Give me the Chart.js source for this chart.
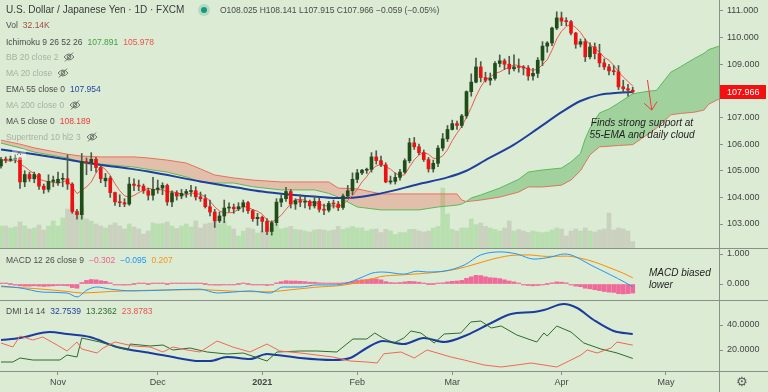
<!DOCTYPE html>
<html>
<head>
<meta charset="utf-8">
<title>USDJPY 1D</title>
<script src="https://cdn.jsdelivr.net/npm/chart.js@4.4.1/dist/chart.umd.min.js"></script>
<style>
  html, body { margin: 0; padding: 0; background: #dcebd4; }
  #wrap { position: relative; width: 768px; height: 392px; overflow: hidden; background: #dcebd4; font-family: "Liberation Sans", Arial, sans-serif; }
  #wrap canvas { position: absolute; left: 0; }
  .hl { position: absolute; left: 0; width: 768px; height: 1px; background: #8a8f88; }
  .vl { position: absolute; left: 719px; top: 0; width: 1px; height: 392px; background: #8a8f88; }
  .row { position: absolute; left: 6px; font-size: 8.5px; line-height: 12px; color: #4a4a4a; white-space: nowrap; }
  .row span { margin-left: 5px; }
  .row svg { margin-left: 5px; vertical-align: -2px; }
  .off { color: #a7b1a3; }
  .note { position: absolute; font-style: italic; font-size: 10px; line-height: 12px; color: #1e1e1e; white-space: nowrap; }
</style>
</head>
<body>
<div id="wrap">
  <canvas id="main" width="768" height="248" style="top:0"></canvas>
  <canvas id="macd" width="768" height="51" style="top:249px"></canvas>
  <canvas id="dmi" width="768" height="91" style="top:301px"></canvas>

  <div class="hl" style="top:248px"></div>
  <div class="hl" style="top:300px"></div>
  <div class="hl" style="top:371px"></div>
  <div class="vl"></div>

  <div class="row" style="top:4px;font-size:10px;color:#3a3a3a">U.S. Dollar / Japanese Yen · 1D · FXCM</div>
  <div style="position:absolute;left:198px;top:4px;width:12px;height:12px;border-radius:50%;background:rgba(22,150,120,0.2)"></div>
  <div style="position:absolute;left:201px;top:7px;width:6px;height:6px;border-radius:50%;background:#139b7e"></div>
  <div class="row" style="left:220px;top:4px;">O108.025 H108.141 L107.915 C107.966 −0.059 (−0.05%)</div>

  <div class="row" style="top:19px">Vol<span style="color:#a14b42">32.14K</span></div>
  <div class="row" style="top:36px">Ichimoku 9 26 52 26<span style="color:#43a047">107.891</span><span style="color:#ef5350">105.978</span></div>
  <div class="row off" style="top:51px">BB 20 close 2<svg width="12" height="10" viewBox="0 0 12 10"><path d="M1 5 Q6 -1 11 5 Q6 11 1 5 Z" fill="none" stroke="#6f776c"/><circle cx="6" cy="5" r="1.8" fill="none" stroke="#6f776c"/><line x1="2" y1="9.5" x2="10" y2="0.5" stroke="#6f776c"/></svg></div>
  <div class="row off" style="top:67px">MA 20 close<svg width="12" height="10" viewBox="0 0 12 10"><path d="M1 5 Q6 -1 11 5 Q6 11 1 5 Z" fill="none" stroke="#6f776c"/><circle cx="6" cy="5" r="1.8" fill="none" stroke="#6f776c"/><line x1="2" y1="9.5" x2="10" y2="0.5" stroke="#6f776c"/></svg></div>
  <div class="row" style="top:83px">EMA 55 close 0<span style="color:#2747a0">107.954</span></div>
  <div class="row off" style="top:99px">MA 200 close 0<svg width="12" height="10" viewBox="0 0 12 10"><path d="M1 5 Q6 -1 11 5 Q6 11 1 5 Z" fill="none" stroke="#6f776c"/><circle cx="6" cy="5" r="1.8" fill="none" stroke="#6f776c"/><line x1="2" y1="9.5" x2="10" y2="0.5" stroke="#6f776c"/></svg></div>
  <div class="row" style="top:115px">MA 5 close 0<span style="color:#f23b3b">108.189</span></div>
  <div class="row off" style="top:131px">Supertrend 10 hl2 3<svg width="12" height="10" viewBox="0 0 12 10"><path d="M1 5 Q6 -1 11 5 Q6 11 1 5 Z" fill="none" stroke="#6f776c"/><circle cx="6" cy="5" r="1.8" fill="none" stroke="#6f776c"/><line x1="2" y1="9.5" x2="10" y2="0.5" stroke="#6f776c"/></svg></div>
  <div style="position:absolute;left:12px;top:149px;width:14px;height:11px;border-radius:2px;background:rgba(255,255,255,0.35);font-size:9px;line-height:13px;text-align:center;color:#555">^</div>

  <div class="row" style="top:254px">MACD 12 26 close 9<span style="color:#ee5f8f">−0.302</span><span style="color:#2196f3">−0.095</span><span style="color:#f7931e">0.207</span></div>
  <div class="row" style="top:305px">DMI 14 14<span style="color:#1f3f9c">32.7539</span><span style="color:#2e6b2e">13.2362</span><span style="color:#ef5350">23.8783</span></div>

  <div class="note" style="left:582px;top:117px;width:120px;text-align:center">Finds strong support at<br>55-EMA and daily cloud</div>
  <div class="note" style="left:649px;top:267px">MACD biased<br>lower</div>

  <div style="position:absolute;left:736px;top:375px;font-family:'DejaVu Sans';font-size:13px;line-height:14px;color:#5a5a5a">⚙</div>
</div>

<script>
// bar index 0 = 15 Oct 2020, 133 = 22 Apr 2021 (daily bars)
const monthIdx = [12, 33, 55, 75, 95, 118, 140];
const monthLabels = ['Nov', 'Dec', '2021', 'Feb', 'Mar', 'Apr', 'May'];

const opens = [105.18,105.42,105.40,105.43,105.48,104.58,104.86,104.70,104.86,104.42,
  104.30,104.60,104.55,104.68,104.70,104.50,103.47,103.35,105.35,105.30,
  105.43,105.12,104.62,104.72,104.18,103.83,103.80,103.75,104.50,104.45,
  104.42,104.25,104.08,104.30,104.35,104.45,103.83,104.17,104.05,104.15,
  104.22,104.25,104.02,103.95,103.65,103.45,103.12,103.30,103.60,103.63,
  103.57,103.65,103.80,103.50,103.20,103.25,103.10,102.72,103.05,103.82,
  103.95,104.22,103.75,103.88,103.82,103.85,103.68,103.85,103.55,103.52,
  103.77,103.75,103.62,104.05,104.25,104.68,104.92,105.02,105.05,105.52,
  105.38,105.22,104.58,104.60,104.75,104.95,105.38,106.05,105.90,105.68,
  105.42,105.07,105.28,105.85,106.20,106.55,106.77,106.70,107.06,107.97,
  108.33,108.90,108.50,108.40,108.47,109.03,109.13,109.00,108.83,108.90,
  108.88,108.86,108.56,108.66,109.15,109.68,109.80,110.36,110.74,110.62,
  110.60,110.17,109.75,109.85,109.28,109.65,109.40,109.05,108.90,108.75,
  108.72,108.15,108.08,108.025];
const highs = [105.50,105.52,105.55,105.60,105.50,105.00,104.95,104.95,104.90,104.50,
  104.85,104.80,104.95,104.90,105.60,104.55,103.55,105.65,105.48,105.68,
  105.50,105.20,104.90,104.80,104.20,104.10,103.95,104.75,104.70,104.65,
  104.50,104.35,104.75,104.65,104.55,104.50,104.25,104.25,104.30,104.30,
  104.45,104.40,104.20,104.10,103.90,103.55,103.45,103.90,103.80,103.75,
  103.80,103.90,103.85,103.55,103.40,103.30,103.20,103.12,103.95,104.10,
  104.38,104.30,103.95,104.10,104.00,103.90,104.05,104.00,103.75,103.85,
  103.90,103.85,104.12,104.45,104.92,105.05,105.05,105.10,105.68,105.75,
  105.55,105.30,104.80,104.92,105.05,105.45,106.22,106.25,106.00,105.78,
  105.50,105.40,105.95,106.40,106.70,106.90,106.87,107.12,108.00,108.64,
  109.23,109.10,108.70,108.67,109.10,109.35,109.20,109.30,109.35,109.20,
  108.95,108.95,108.85,109.25,109.85,109.85,110.40,110.97,110.96,110.75,
  110.65,110.20,109.95,109.95,109.80,109.80,109.75,109.20,109.00,108.95,
  108.95,108.40,108.25,108.141];
const lows = [105.10,105.30,105.35,105.30,104.34,104.40,104.60,104.55,104.30,104.15,
  104.20,104.40,104.45,104.40,104.30,103.40,103.18,103.18,104.85,105.00,
  104.95,104.55,104.40,104.00,103.70,103.65,103.65,103.70,104.25,104.25,
  104.15,103.90,103.90,104.15,104.10,103.70,103.65,103.90,103.95,104.00,
  104.05,103.90,103.85,103.60,103.30,102.87,103.05,103.05,103.45,103.40,
  103.50,103.45,103.40,103.10,102.95,102.70,102.60,102.58,102.95,103.65,
  103.85,103.60,103.55,103.65,103.60,103.55,103.60,103.45,103.35,103.45,
  103.60,103.50,103.55,104.00,104.10,104.55,104.85,104.90,104.95,105.25,
  105.15,104.55,104.50,104.50,104.65,104.90,105.30,105.80,105.60,105.35,
  104.95,104.95,105.15,105.75,106.10,106.53,106.55,106.62,106.97,107.80,
  108.30,108.34,108.33,108.22,108.40,108.90,108.80,108.63,108.75,108.70,
  108.60,108.40,108.40,108.50,108.95,109.45,109.70,110.30,110.45,110.45,
  110.10,109.60,109.65,109.10,109.20,109.20,108.90,108.80,108.60,108.60,
  108.05,107.95,107.80,107.915];
const closes = [105.42,105.40,105.43,105.47,104.58,104.86,104.70,104.86,104.42,104.30,
  104.60,104.65,104.68,104.70,104.50,103.47,103.35,105.35,105.30,105.43,
  105.12,104.70,104.72,104.18,103.83,103.80,103.75,104.50,104.45,104.42,
  104.25,104.08,104.30,104.35,104.45,103.83,104.17,104.05,104.15,104.22,
  104.25,104.02,103.95,103.65,103.45,103.12,103.30,103.60,103.63,103.57,
  103.65,103.80,103.50,103.20,103.25,103.10,102.72,103.05,103.82,103.95,
  104.22,103.75,103.88,103.82,103.85,103.68,103.85,103.55,103.52,103.77,
  103.75,103.62,104.05,104.25,104.68,104.92,105.02,105.05,105.52,105.38,
  105.22,104.58,104.60,104.75,104.95,105.38,106.05,105.90,105.68,105.42,
  105.07,105.28,105.85,106.20,106.55,106.77,106.70,107.06,107.97,108.33,
  108.90,108.50,108.40,108.47,109.03,109.13,109.00,108.83,108.90,108.88,
  108.86,108.56,108.66,109.15,109.68,109.80,110.36,110.74,110.62,110.60,
  110.17,109.75,109.85,109.28,109.65,109.40,109.05,108.90,108.75,108.72,
  108.15,108.08,108.03,107.966];
// volume in thousands
const volumes = [110,110,100,105,130,110,95,100,115,90,
  110,135,110,150,195,220,175,210,145,135,
  120,110,100,115,125,110,95,120,105,95,
  70,85,125,120,122,130,110,98,110,120,
  105,135,100,120,125,138,120,132,110,95,
  60,85,100,95,75,85,100,100,117,95,
  100,108,93,90,85,80,90,93,90,85,
  90,108,93,100,108,100,100,85,93,95,
  77,93,85,68,77,77,93,93,85,80,
  85,100,108,300,170,93,85,100,100,145,
  117,125,108,100,93,85,100,135,85,93,
  85,77,85,80,77,80,90,100,95,60,
  85,95,85,100,85,80,90,95,175,90,
  100,95,85,32.14];
const ma5 = [105.42,105.38,105.37,105.42,105.26,105.15,105.01,104.89,104.68,104.63,
  104.58,104.57,104.53,104.59,104.63,104.40,104.14,104.27,104.39,104.58,
  104.91,105.18,105.05,104.83,104.51,104.25,104.06,104.01,104.07,104.18,
  104.27,104.34,104.30,104.28,104.29,104.20,104.22,104.17,104.13,104.08,
  104.17,104.14,104.12,104.02,103.86,103.64,103.49,103.42,103.42,103.44,
  103.55,103.65,103.63,103.54,103.48,103.37,103.15,103.06,103.19,103.33,
  103.55,103.76,103.92,103.92,103.90,103.80,103.82,103.75,103.69,103.67,
  103.69,103.64,103.74,103.89,104.07,104.30,104.58,104.78,105.04,105.18,
  105.24,105.15,105.06,104.91,104.82,104.85,105.15,105.41,105.59,105.69,
  105.62,105.47,105.46,105.56,105.79,106.13,106.41,106.66,107.01,107.37,
  107.79,108.15,108.42,108.52,108.66,108.71,108.81,108.89,108.98,108.95,
  108.89,108.81,108.77,108.82,108.98,109.17,109.53,109.95,110.24,110.42,
  110.50,110.38,110.20,109.93,109.74,109.59,109.45,109.26,109.15,108.96,
  108.71,108.52,108.35,108.19];

const emaIdx = [0, 7, 14, 17, 21, 27, 31, 42, 50, 55, 60, 66, 70, 74, 80, 88, 94, 98, 102, 108, 113, 118, 122, 126, 130, 133];
const emaVal = [105.80, 105.62, 105.42, 105.33, 105.22, 105.08, 104.97, 104.60, 104.36, 104.22, 104.12, 104.03, 103.98, 103.99, 104.15, 104.50, 104.75, 105.00, 105.40, 105.98, 106.58, 107.20, 107.62, 107.85, 107.93, 107.954];

// Ichimoku leading spans (already shifted forward 26 bars)
const cloudIdx = [0,4,7,14,17,21,28,31,35,39,42,45,49,53,59,66,69,71,75,80,88,92,96,97,98,99,101,105,109,111,114,118,120,122,123,124,126,128,130,133,136,138,141,143,146,148,149,151,152];
const spanA = [106.04,105.86,105.70,105.48,105.33,105.25,105.14,105.05,104.95,104.77,104.58,104.54,104.54,104.40,104.28,104.28,104.15,104.01,103.64,103.53,103.53,103.64,103.71,103.75,103.85,103.98,104.09,104.35,104.68,104.95,105.03,105.10,105.33,105.65,106.20,106.60,107.17,107.32,107.54,107.89,107.98,108.02,108.70,108.90,109.22,109.41,109.55,109.67,109.70];
const spanB = [106.15,106.00,105.86,105.62,105.55,105.52,105.52,105.48,105.40,105.29,105.07,104.84,104.73,104.65,104.58,104.58,104.58,104.35,104.32,104.13,104.13,104.13,104.13,103.90,103.84,103.86,103.90,104.01,104.20,104.39,104.39,104.46,104.65,105.00,105.30,105.60,105.90,105.92,105.95,105.98,106.35,106.60,107.10,107.15,107.20,107.28,107.50,107.68,107.72];

const macdIdx = [0, 4, 8.8, 13.9, 16, 18.1, 20.2, 23, 27.8, 35, 41.9, 45.5, 48.8, 52.4, 56.6, 59.4, 63, 66.5, 69.9, 72.8, 75.6, 78.3, 80.4, 84.8, 87.6, 89.7, 93.3, 97.5, 101, 105.3, 108.6, 112.2, 115.8, 118.5, 120, 124.2, 128.4, 131.2, 133];
const macdVal = [-0.07, -0.13, -0.27, -0.30, -0.43, -0.20, -0.10, -0.17, -0.23, -0.20, -0.17, -0.30, -0.27, -0.23, -0.30, -0.10, -0.10, -0.03, -0.03, 0.03, 0.20, 0.37, 0.40, 0.33, 0.43, 0.40, 0.43, 0.63, 0.97, 1.07, 1.00, 0.83, 0.90, 1.00, 0.97, 0.63, 0.30, 0.07, -0.095];
const sigIdx = [0, 7, 14, 17, 23, 31, 42, 49, 56, 60, 66, 72, 77, 80, 84, 88, 92, 96, 100, 104, 108, 111, 115, 119, 122, 125, 128, 131, 133];
const sigVal = [-0.09, -0.15, -0.25, -0.30, -0.25, -0.21, -0.19, -0.24, -0.26, -0.21, -0.11, -0.04, 0.12, 0.25, 0.30, 0.34, 0.40, 0.50, 0.67, 0.85, 0.96, 0.97, 0.92, 0.93, 0.86, 0.73, 0.55, 0.36, 0.207];
const hist = [0.02,0.01,0.0,-0.04,-0.06,-0.07,-0.07,-0.06,-0.07,-0.08,
  -0.07,-0.06,-0.05,-0.05,-0.06,-0.12,-0.14,0.05,0.12,0.15,
  0.14,0.11,0.09,0.04,-0.01,-0.03,-0.04,-0.01,0.0,0.01,
  0.01,0.0,0.02,0.02,0.03,0.0,0.01,0.01,0.02,0.03,
  0.03,0.02,0.02,0.0,-0.02,-0.04,-0.04,-0.02,-0.01,-0.01,
  0.0,0.01,0.0,-0.02,-0.02,-0.03,-0.05,-0.03,0.04,0.08,
  0.11,0.10,0.10,0.09,0.08,0.06,0.06,0.04,0.03,0.03,
  0.03,0.02,0.04,0.06,0.09,0.12,0.14,0.15,0.17,0.17,
  0.14,0.08,0.05,0.04,0.05,0.07,0.09,0.08,0.06,0.03,
  0.0,0.0,0.02,0.04,0.07,0.09,0.10,0.12,0.19,0.24,
  0.29,0.28,0.24,0.21,0.20,0.18,0.14,0.10,0.07,0.03,
  -0.01,-0.05,-0.06,-0.05,-0.03,0.0,0.04,0.07,0.06,0.04,
  -0.02,-0.07,-0.09,-0.14,-0.16,-0.19,-0.22,-0.25,-0.27,-0.28,
  -0.32,-0.33,-0.32,-0.302];

const adxIdx = [0, 4, 10.3, 13.9, 18.7, 24.4, 31.4, 35, 41.9, 44, 47.6, 52.4, 56, 58.1, 63, 69.9, 73.5, 77, 80.4, 84.8, 89, 93.3, 98.1, 103.2, 107.4, 112.2, 114.3, 118.5, 121.3, 124.8, 129, 133];
const adxVal = [28, 29.6, 34.4, 32.8, 30.4, 22.4, 17.6, 15.2, 11.2, 11.2, 14.4, 12.8, 16.8, 16, 13.6, 12, 13.6, 21.6, 27.2, 24.8, 29.6, 26.4, 32, 41.6, 48.8, 50.4, 52, 56.8, 53.6, 44, 35.2, 32.75];
const pdiIdx = [0, 2.5, 4, 6.7, 12.4, 13.9, 16, 17, 20.8, 24.4, 26.7, 27.2, 31.4, 34.1, 36.2, 39.8, 43.4, 47.6, 51, 56, 58.1, 63, 66.5, 70.7, 74.1, 77, 78.7, 80.4, 82.7, 84.8, 86.3, 88.4, 91.2, 93.3, 96.8, 98.9, 101, 103.2, 105.3, 108.6, 112.8, 114.3, 115, 117, 120, 122.7, 126.3, 129.7, 133];
const pdiVal = [10.4, 10.4, 13.6, 12, 12, 16, 14.4, 29.6, 26.4, 22.4, 20, 24.8, 23.2, 24, 20, 21.6, 18.4, 16.8, 17.6, 11.2, 18.4, 19.2, 19.2, 18.4, 28.8, 28.8, 33.6, 29.6, 25.6, 29.6, 35.2, 33.6, 25.6, 32.8, 33.6, 42.4, 43.2, 37.6, 39.2, 32, 26.4, 33.6, 31.2, 39.2, 34.4, 25.6, 20.8, 17.6, 13.24];
const mdiIdx = [0, 2.5, 4, 6.7, 8.8, 11.8, 13.9, 16, 17, 20.2, 21.5, 24, 27.8, 31.4, 34.1, 36.2, 39.2, 41.9, 45.5, 48.8, 52.4, 56, 58.7, 63, 69.9, 73.5, 77, 79.2, 80.6, 84.2, 87, 89.7, 94.7, 97.5, 101.7, 105.3, 108.6, 111.6, 117, 120, 122.1, 123.4, 125.5, 128.4, 129.7, 131.8, 133];
const mdiVal = [25.6, 22.4, 31.2, 28, 30.4, 24, 19.2, 26.4, 20.8, 17.6, 21.6, 26.4, 23.2, 22.4, 18.4, 22.4, 20, 18.4, 27.2, 22.4, 18.4, 24.8, 19.2, 17.6, 14.4, 11.2, 10.4, 9.6, 17, 18.4, 13.6, 20, 14.4, 12, 8, 6.4, 8, 9.6, 6.4, 12, 16, 20, 17.6, 21.6, 26.4, 24.8, 23.88];

const priceTicks = [103, 104, 105, 106, 107, 108, 109, 110, 111];
const macdTicks = [0, 1];
const dmiTicks = [20, 40];

// annotation arrow (bar index, price)
const arrowFrom = [136.1, 108.41];
const arrowTo = [137.0, 107.28];

const F = '"Liberation Sans", Arial, sans-serif';
const X_MIN = -0.21, X_MAX = 151.16;
const AXIS_C = '#8a8f88';
const idx = closes.map((c, i) => i);
const pts = (xs, ys) => xs.map((x, k) => ({ x: x, y: ys[k] }));
const isUp = i => closes[i] >= opens[i];

function xAxis(show) {
  return {
    type: 'linear', min: X_MIN, max: X_MAX, offset: false, display: show,
    afterBuildTicks: s => { s.ticks = monthIdx.map(v => ({ value: v })); },
    afterFit: s => { s.height = show ? 21 : 0; s.paddingLeft = 0; s.paddingRight = 0; },
    grid: { drawOnChartArea: false, drawTicks: true, tickLength: 4, color: AXIS_C },
    border: { display: false },
    ticks: {
      autoSkip: false, maxRotation: 0, padding: 2, color: '#454545',
      font: c => ({ family: F, size: 9, weight: (c.tick && c.tick.label === '2021') ? 'bold' : 'normal' }),
      callback: v => { const k = monthIdx.indexOf(v); return k < 0 ? '' : monthLabels[k]; }
    }
  };
}

function yAxis(min, max, vals, dec) {
  return {
    position: 'right', min: min, max: max,
    afterBuildTicks: s => { s.ticks = vals.map(v => ({ value: v })); },
    afterFit: s => { s.width = 49; s.paddingTop = 0; s.paddingBottom = 0; },
    grid: { drawOnChartArea: false, drawTicks: true, tickLength: 4, color: AXIS_C },
    border: { display: false },
    ticks: { padding: 4, color: '#454545', font: { family: F, size: 9 }, callback: v => v.toFixed(dec) }
  };
}

const base = {
  responsive: false, animation: false, devicePixelRatio: 1, events: [],
  layout: { padding: 0 },
  plugins: { legend: { display: false }, tooltip: { enabled: false } }
};

const priceOverlay = {
  id: 'priceOverlay',
  afterDraw(chart) {
    const ctx = chart.ctx, sx = chart.scales.x, sy = chart.scales.y;
    const last = closes.length - 1;
    const py = Math.round(sy.getPixelForValue(closes[last]));
    ctx.save();
    ctx.fillStyle = '#f21010';
    ctx.fillRect(720, py - 7, 46, 14);
    ctx.fillStyle = '#ffffff';
    ctx.font = '9px ' + F;
    ctx.textBaseline = 'middle';
    ctx.fillText(closes[last].toFixed(3), 727, py + 0.5);
    const x1 = sx.getPixelForValue(arrowFrom[0]), y1 = sy.getPixelForValue(arrowFrom[1]);
    const x2 = sx.getPixelForValue(arrowTo[0]), y2 = sy.getPixelForValue(arrowTo[1]);
    const a = Math.atan2(y2 - y1, x2 - x1);
    ctx.strokeStyle = '#f03a3a';
    ctx.lineWidth = 1;
    ctx.beginPath();
    ctx.moveTo(x1, y1); ctx.lineTo(x2, y2);
    [-0.7, 0.7].forEach(d => { ctx.moveTo(x2, y2); ctx.lineTo(x2 - 10 * Math.cos(a + d), y2 - 10 * Math.sin(a + d)); });
    ctx.stroke();
    ctx.restore();
  }
};

new Chart(document.getElementById('main'), {
  type: 'bar',
  data: {
    datasets: [
      { type: 'bar', yAxisID: 'yv', order: 10, grouped: false, barThickness: 4,
        data: idx.map(i => ({ x: i, y: volumes[i] })),
        backgroundColor: c => isUp(c.dataIndex) ? 'rgba(120,200,110,0.35)' : 'rgba(170,160,150,0.35)' },
      { type: 'line', yAxisID: 'y', order: 9, data: pts(cloudIdx, spanA),
        borderColor: '#5cb85c', borderWidth: 1, pointRadius: 0,
        fill: { target: '+1', above: 'rgba(67,170,71,0.38)', below: 'rgba(244,80,60,0.28)' } },
      { type: 'line', yAxisID: 'y', order: 9, data: pts(cloudIdx, spanB),
        borderColor: '#f2705e', borderWidth: 1, pointRadius: 0, fill: false },
      { type: 'line', yAxisID: 'y', order: 6, data: pts(emaIdx, emaVal),
        borderColor: '#1e3f9c', borderWidth: 2, pointRadius: 0, cubicInterpolationMode: 'monotone' },
      { type: 'line', yAxisID: 'y', order: 5, data: pts(idx, ma5),
        borderColor: '#f0584a', borderWidth: 1, pointRadius: 0 },
      { type: 'bar', yAxisID: 'y', order: 2, grouped: false, barThickness: 1,
        data: idx.map(i => ({ x: i, y: [lows[i], highs[i]] })),
        backgroundColor: '#4f5a4c' },
      { type: 'bar', yAxisID: 'y', order: 1, grouped: false, barThickness: 3, minBarLength: 1,
        data: idx.map(i => ({ x: i, y: [opens[i], closes[i]] })),
        backgroundColor: c => isUp(c.dataIndex) ? '#1f4d19' : '#ee1111',
        borderWidth: 0 }
    ]
  },
  options: Object.assign({}, base, {
    scales: {
      x: xAxis(false),
      y: yAxis(102.099, 111.413, priceTicks, 3),
      yv: { display: false, min: 0, max: 1240 }
    }
  }),
  plugins: [priceOverlay]
});

new Chart(document.getElementById('macd'), {
  type: 'bar',
  data: {
    datasets: [
      { type: 'bar', order: 3, grouped: false, barThickness: 4, minBarLength: 1,
        data: idx.map(i => ({ x: i, y: hist[i] })), backgroundColor: '#f0699a' },
      { type: 'line', order: 2, data: pts(sigIdx, sigVal), borderColor: '#fb8c00', borderWidth: 1, pointRadius: 0, cubicInterpolationMode: 'monotone' },
      { type: 'line', order: 1, data: pts(macdIdx, macdVal), borderColor: '#2196f3', borderWidth: 1, pointRadius: 0, cubicInterpolationMode: 'monotone' }
    ]
  },
  options: Object.assign({}, base, {
    scales: { x: xAxis(false), y: yAxis(-0.533, 1.167, macdTicks, 3) }
  })
});

new Chart(document.getElementById('dmi'), {
  type: 'line',
  data: {
    datasets: [
      { data: pts(mdiIdx, mdiVal), borderColor: '#f2665a', borderWidth: 1, pointRadius: 0 },
      { data: pts(pdiIdx, pdiVal), borderColor: '#2e6b2e', borderWidth: 1, pointRadius: 0 },
      { data: pts(adxIdx, adxVal), borderColor: '#1a3c9c', borderWidth: 2, pointRadius: 0, cubicInterpolationMode: 'monotone' }
    ]
  },
  options: Object.assign({}, base, {
    scales: { x: xAxis(true), y: yAxis(3.2, 59.2, dmiTicks, 4) }
  })
});
</script>
</body>
</html>
